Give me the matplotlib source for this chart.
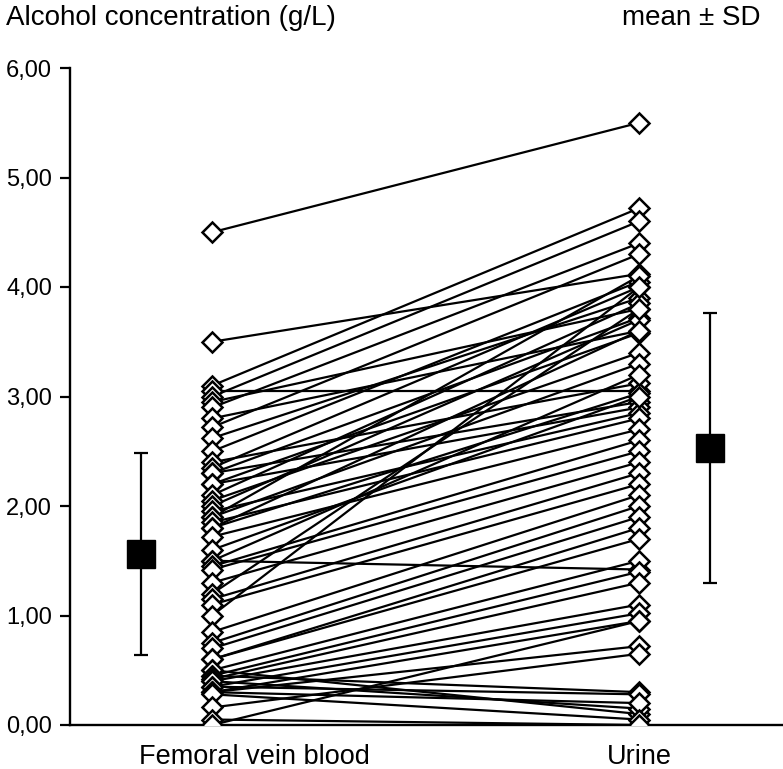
import numpy as np
import matplotlib.pyplot as plt

plt.rcParams['font.family'] = ['Liberation Sans', 'DejaVu Sans']

# paired concentrations (g/L), one entry per case
blood = [4.50, 3.50, 3.10, 3.05, 3.00, 2.95, 2.90, 2.80, 2.72, 2.62,
         2.50, 2.40, 2.35, 2.30, 2.30, 2.20, 2.20, 2.10, 2.05, 2.00,
         1.95, 1.90, 1.90, 1.85, 1.80, 1.80, 1.72, 1.60, 1.50, 1.50,
         1.45, 1.42, 1.30, 1.20, 1.15, 1.10, 1.00, 0.85, 0.75, 0.70,
         0.60, 0.60, 0.50, 0.50, 0.45, 0.45, 0.42, 0.40, 0.40, 0.35,
         0.35, 0.30, 0.30, 0.30, 0.28, 0.16, 0.05, 0.00]
urine = [5.50, 4.12, 4.72, 3.05, 4.60, 3.80, 4.40, 3.60, 4.30, 3.90,
         4.05, 3.12, 4.00, 3.72, 2.95, 3.58, 2.90, 3.85, 3.40, 3.70,
         2.85, 3.30, 4.10, 2.80, 3.60, 3.03, 2.70, 3.00, 1.42, 3.20,
         2.60, 2.50, 2.40, 3.80, 2.30, 2.20, 4.00, 2.10, 2.00, 1.90,
         1.80, 1.70, 1.50, 0.10, 1.40, 0.30, 1.30, 1.10, 0.15, 1.02,
         0.28, 0.95, 0.72, 0.20, 0.05, 0.65, 0.00, 0.95]

mean_blood, sd_blood = 1.56, 0.92
mean_urine, sd_urine = 2.53, 1.23

groups = ['Femoral vein blood', 'Urine']
yticks = [0, 1, 2, 3, 4, 5, 6]

fig = plt.figure(figsize=(7.83, 7.69), dpi=100)
ax = fig.add_axes([70/783, 44/769, 713/783, 657/769])

for b, u in zip(blood, urine):
    ax.plot([1, 2], [b, u], color='black', lw=1.6, zorder=2)
ax.plot(np.ones(len(blood)), blood, 'D', ms=10, mfc='white', mec='black', mew=1.8, ls='none', zorder=3)
ax.plot(2*np.ones(len(urine)), urine, 'D', ms=10, mfc='white', mec='black', mew=1.8, ls='none', zorder=3)

# mean +- SD
ax.errorbar([0.834, 2.166], [mean_blood, mean_urine], yerr=[sd_blood, sd_urine],
            fmt='s', ms=20, color='black', elinewidth=1.6, capsize=5, capthick=1.6, zorder=4)

ax.set_xlim(0.667, 2.337)
ax.set_ylim(0, 6)
ax.set_yticks(yticks)
ax.set_yticklabels(['%d,00' % t for t in yticks], fontsize=17)
ax.tick_params(axis='y', direction='out', length=7, width=1.6, pad=6)
ax.set_xticks([])
for s in ['top', 'right']:
    ax.spines[s].set_visible(False)
ax.spines['left'].set_linewidth(1.7)
ax.spines['bottom'].set_linewidth(1.7)

ax.text(1.10, -0.049, groups[0], transform=ax.get_xaxis_transform(), ha='center', va='center', fontsize=19.5)
ax.text(2.00, -0.049, groups[1], transform=ax.get_xaxis_transform(), ha='center', va='center', fontsize=19.5)

fig.text(6/783, 1 - 18/769, 'Alcohol concentration (g/L)', ha='left', va='center', fontsize=20)
fig.text(622/783, 1 - 18/769, 'mean ± SD', ha='left', va='center', fontsize=20)

fig.savefig('out.png', dpi=100)
